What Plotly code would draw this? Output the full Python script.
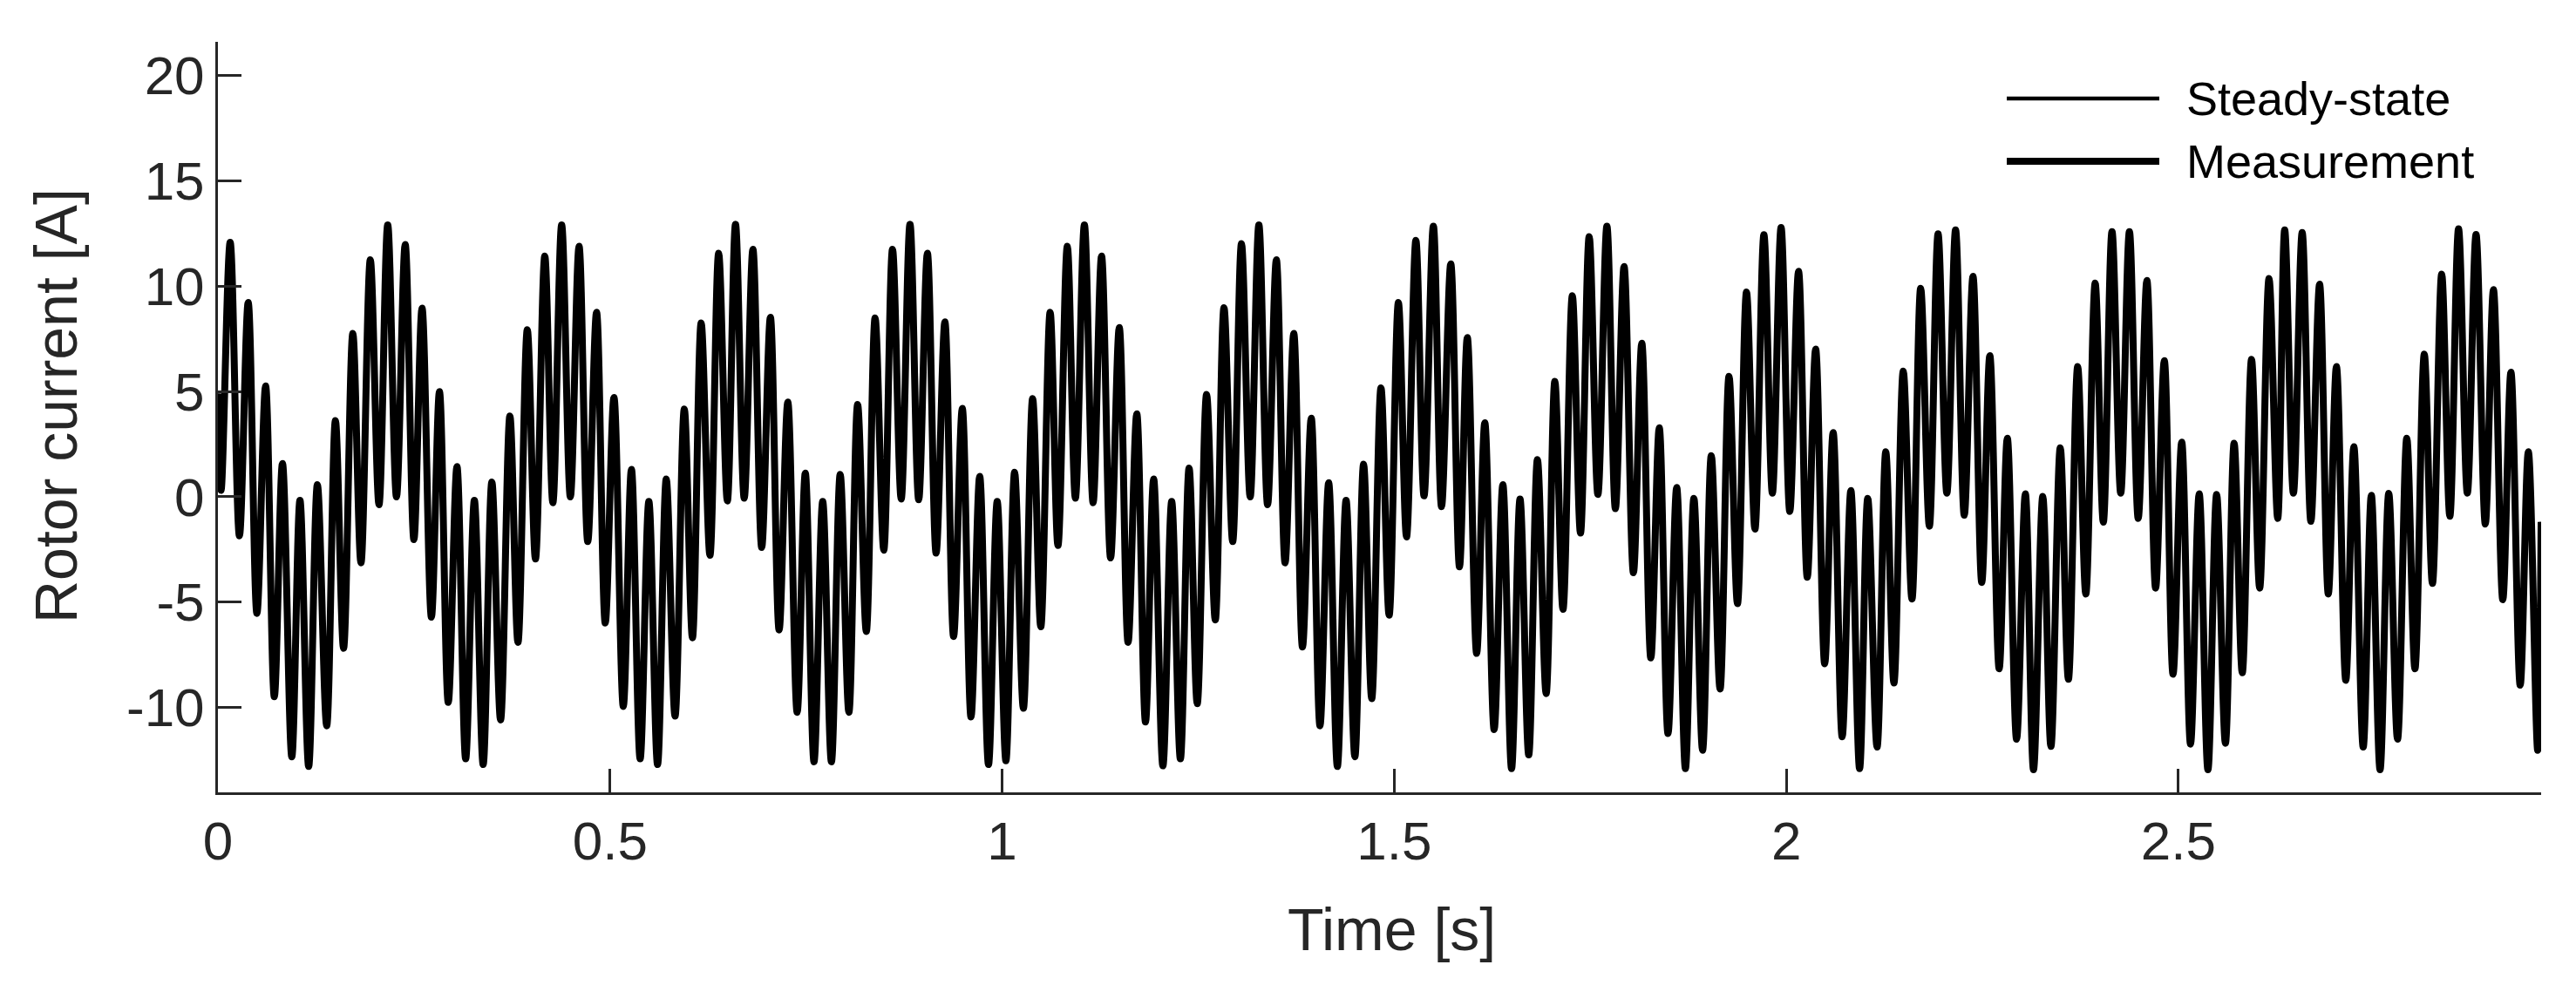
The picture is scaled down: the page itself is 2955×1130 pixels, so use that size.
import plotly.graph_objects as go

# ---------------- data ----------------
# local extrema of the rotor current (time [s], current [A])
t_ext = [
    0.0000, 0.0040, 0.0156, 0.0274, 0.0386, 0.0497, 0.0608, 0.0719, 0.0823, 0.0942,
    0.1046, 0.1157, 0.1268, 0.1387, 0.1498, 0.1602, 0.1720, 0.1824, 0.1943, 0.2054,
    0.2165, 0.2277, 0.2388, 0.2499, 0.2603, 0.2722, 0.2825, 0.2937, 0.3048, 0.3159,
    0.3270, 0.3382, 0.3493, 0.3604, 0.3723, 0.3826, 0.3945, 0.4049, 0.4168, 0.4271,
    0.4383, 0.4494, 0.4605, 0.4716, 0.4828, 0.4939, 0.5050, 0.5169, 0.5273, 0.5384,
    0.5495, 0.5606, 0.5717, 0.5829, 0.5947, 0.6051, 0.6162, 0.6274, 0.6385, 0.6496,
    0.6600, 0.6711, 0.6822, 0.6934, 0.7045, 0.7156, 0.7267, 0.7386, 0.7490, 0.7601,
    0.7712, 0.7823, 0.7935, 0.8046, 0.8157, 0.8268, 0.8380, 0.8491, 0.8602, 0.8713,
    0.8825, 0.8936, 0.9047, 0.9158, 0.9270, 0.9381, 0.9492, 0.9603, 0.9714, 0.9826,
    0.9937, 1.0048, 1.0159, 1.0271, 1.0389, 1.0493, 1.0612, 1.0712, 1.0831, 1.0934,
    1.1049, 1.1160, 1.1268, 1.1383, 1.1494, 1.1606, 1.1717, 1.1828, 1.1932, 1.2050,
    1.2162, 1.2273, 1.2384, 1.2488, 1.2607, 1.2718, 1.2829, 1.2940, 1.3052, 1.3163,
    1.3274, 1.3385, 1.3497, 1.3608, 1.3719, 1.3830, 1.3942, 1.4053, 1.4164, 1.4275,
    1.4386, 1.4498, 1.4609, 1.4713, 1.4831, 1.4935, 1.5053, 1.5157, 1.5276, 1.5380,
    1.5499, 1.5603, 1.5721, 1.5832, 1.5932, 1.6051, 1.6155, 1.6274, 1.6385, 1.6496,
    1.6604, 1.6715, 1.6826, 1.6937, 1.7048, 1.7152, 1.7271, 1.7375, 1.7486, 1.7597,
    1.7712, 1.7820, 1.7931, 1.8050, 1.8157, 1.8272, 1.8380, 1.8491, 1.8602, 1.8713,
    1.8821, 1.8932, 1.9043, 1.9155, 1.9269, 1.9377, 1.9492, 1.9600, 1.9714, 1.9822,
    1.9933, 2.0044, 2.0156, 2.0267, 2.0374, 2.0489, 2.0597, 2.0712, 2.0823, 2.0934,
    2.1038, 2.1157, 2.1268, 2.1372, 2.1491, 2.1602, 2.1713, 2.1824, 2.1935, 2.2047,
    2.2158, 2.2269, 2.2380, 2.2492, 2.2595, 2.2714, 2.2818, 2.2936, 2.3048, 2.3152,
    2.3270, 2.3374, 2.3493, 2.3597, 2.3715, 2.3819, 2.3938, 2.4042, 2.4153, 2.4264,
    2.4375, 2.4487, 2.4598, 2.4709, 2.4820, 2.4931, 2.5042, 2.5154, 2.5265, 2.5376,
    2.5487, 2.5599, 2.5710, 2.5814, 2.5932, 2.6036, 2.6155, 2.6266, 2.6355, 2.6466,
    2.6578, 2.6689, 2.6800, 2.6911, 2.7015, 2.7134, 2.7237, 2.7356, 2.7460, 2.7571,
    2.7682, 2.7794, 2.7912, 2.8016, 2.8135, 2.8239, 2.8357, 2.8461, 2.8572, 2.8684,
    2.8795, 2.8913, 2.9017, 2.9136, 2.9240, 2.9358, 2.9462, 2.9581, 2.9625,
]
i_meas = [
    4.90, 0.30, 12.08, -1.86, 9.22, -5.54, 5.26, -9.50, 1.58, -12.35,
    -0.17, -12.81, 0.57, -10.88, 3.61, -7.20, 7.75, -3.14, 11.25, -0.38,
    12.91, -0.01, 11.98, -2.04, 8.95, -5.72, 4.99, -9.77, 1.43, -12.45,
    -0.17, -12.72, 0.70, -10.60, 3.83, -6.92, 7.93, -2.96, 11.43, -0.29,
    12.91, -0.01, 11.89, -2.13, 8.76, -6.00, 4.71, -9.96, 1.30, -12.45,
    -0.23, -12.72, 0.84, -10.42, 4.16, -6.70, 8.25, -2.78, 11.56, -0.20,
    12.94, -0.07, 11.75, -2.41, 8.52, -6.33, 4.49, -10.24, 1.12, -12.59,
    -0.23, -12.59, 1.06, -10.24, 4.38, -6.40, 8.49, -2.54, 11.75, -0.11,
    12.94, -0.14, 11.56, -2.68, 8.30, -6.64, 4.19, -10.46, 0.97, -12.72,
    -0.23, -12.54, 1.16, -10.05, 4.66, -6.18, 8.76, -2.32, 11.89, -0.07,
    12.91, -0.29, 11.43, -2.91, 8.03, -6.92, 3.94, -10.70, 0.84, -12.78,
    -0.23, -12.45, 1.36, -9.83, 4.86, -5.85, 8.98, -2.13, 12.02, -0.01,
    12.91, -0.38, 11.25, -3.14, 7.75, -7.14, 3.73, -10.88, 0.66, -12.81,
    -0.17, -12.35, 1.54, -9.59, 5.17, -5.63, 9.22, -1.91, 12.17, 0.04,
    12.85, -0.47, 11.06, -3.33, 7.56, -7.44, 3.51, -11.06, 0.57, -12.91,
    -0.11, -12.26, 1.76, -9.35, 5.48, -5.35, 9.54, -1.73, 12.35, 0.11,
    12.85, -0.57, 10.93, -3.61, 7.29, -7.66, 3.27, -11.25, 0.44, -12.91,
    -0.08, -12.04, 1.95, -9.13, 5.72, -5.08, 9.72, -1.54, 12.44, 0.17,
    12.78, -0.70, 10.70, -3.83, 7.01, -7.93, 3.05, -11.40, 0.29, -12.91,
    -0.08, -11.89, 2.13, -8.85, 5.96, -4.86, 9.90, -1.40, 12.48, 0.17,
    12.67, -0.88, 10.46, -4.07, 6.70, -8.17, 2.78, -11.52, 0.14, -12.96,
    0.01, -11.86, 2.32, -8.67, 6.18, -4.62, 10.14, -1.21, 12.59, 0.17,
    12.59, -1.03, 10.27, -4.34, 6.46, -8.43, 2.59, -11.75, 0.14, -12.96,
    0.11, -11.71, 2.54, -8.36, 6.52, -4.34, 10.36, -1.03, 12.67, 0.17,
    12.54, -1.17, 10.09, -4.62, 6.18, -8.72, 2.37, -11.89, 0.07, -12.96,
    0.16, -11.52, 2.78, -8.17, 6.77, -4.12, 10.57, -0.93, 12.72, 0.17,
    12.45, -1.30, 9.83, -4.89, 5.91, -8.95, 2.13, -12.04, -1.20,
]
# steady-state solution: coincides with the measurement at this scale
i_steady = list(i_meas)

x_tickvals = [0, 0.5, 1, 1.5, 2, 2.5]
x_ticktext = ["0", "0.5", "1", "1.5", "2", "2.5"]
y_tickvals = [-10, -5, 0, 5, 10, 15, 20]
y_ticktext = ["-10", "-5", "0", "5", "10", "15", "20"]
legend_names = ["Steady-state", "Measurement"]

# ---------------- figure ----------------
W, H = 2955, 1130
L, R, T, B = 242, 2907, 40, 901   # plot area in pixels
TXT = "#262626"
FONT = "Liberation Sans, Arial, Helvetica, sans-serif"

def px(x):
    return (x - L) / (R - L)

def py(y):
    return (B - y) / (B - T)

fig = go.Figure()
fig.add_trace(go.Scatter(x=t_ext, y=i_steady, mode="lines", name=legend_names[0],
                         line=dict(color="black", width=4.5, shape="spline", smoothing=1.0),
                         showlegend=False, hoverinfo="skip"))
fig.add_trace(go.Scatter(x=t_ext, y=i_meas, mode="lines", name=legend_names[1],
                         line=dict(color="black", width=8, shape="spline", smoothing=1.0),
                         showlegend=False, hoverinfo="skip"))

axis_common = dict(showgrid=False, zeroline=False, showline=True, linecolor=TXT,
                   linewidth=3, ticks="inside", ticklen=27, tickwidth=2.5,
                   tickcolor=TXT, tickfont=dict(family=FONT, size=62, color=TXT),
                   mirror=False)

fig.update_layout(
    width=W, height=H,
    margin=dict(l=L, r=W - R, t=T, b=H - B, pad=0),
    paper_bgcolor="white", plot_bgcolor="white",
    showlegend=False,
    xaxis=dict(range=[0, t_ext[-1]], tickvals=x_tickvals, ticktext=x_ticktext, **axis_common),
    yaxis=dict(range=[-14.04, 21.6], tickvals=y_tickvals, ticktext=y_ticktext, **axis_common),
)

annotations = [
    dict(text="Time [s]", x=px(1589), y=py(1058), xref="paper", yref="paper",
         xanchor="center", yanchor="middle", showarrow=False,
         font=dict(family=FONT, size=68, color=TXT)),
    dict(text="Rotor current [A]", x=px(56), y=py(458), xref="paper", yref="paper",
         xanchor="center", yanchor="middle", showarrow=False, textangle=-90,
         font=dict(family=FONT, size=68, color=TXT)),
]
legend_rows = [105, 177]
legend_widths = [4.5, 8]
shapes = []
for name, yrow, lw in zip(legend_names, legend_rows, legend_widths):
    shapes.append(dict(type="line", xref="paper", yref="paper",
                       x0=px(2294), x1=px(2469), y0=py(yrow), y1=py(yrow),
                       line=dict(color="black", width=lw)))
    annotations.append(dict(text=name, x=px(2498), y=py(yrow), xref="paper", yref="paper",
                            xanchor="left", yanchor="middle", showarrow=False,
                            font=dict(family=FONT, size=54, color="black")))
fig.update_layout(annotations=annotations, shapes=shapes)

fig.write_html("out.html")
